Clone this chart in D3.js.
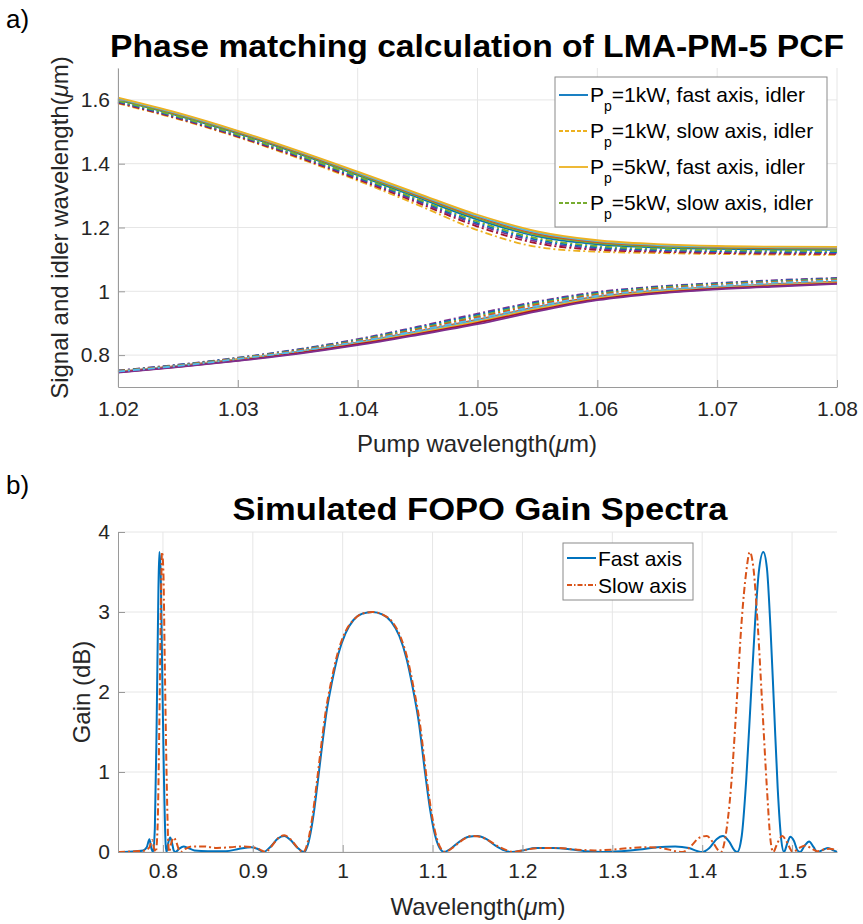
<!DOCTYPE html>
<html>
<head>
<meta charset="utf-8">
<script src="https://cdn.jsdelivr.net/npm/d3@7"></script>
<style>
body { margin: 0; background: #fff; }
svg { font-family: "Liberation Sans", Arial, sans-serif; }
.grid line { stroke: #e6e6e6; stroke-width: 1; }
.axis path, .axis line { stroke: #9a9a9a; }
.axis text { fill: #262626; font-size: 21px; }
</style>
</head>
<body>
<script>
// ---- panel a) phase matching, pump wavelength (um) ----
var pumpWl = [1.02, 1.025, 1.03, 1.035, 1.04, 1.045, 1.05, 1.055, 1.06, 1.065, 1.07, 1.075, 1.08];

var idler1kWFast = [1.600, 1.551, 1.495, 1.432, 1.364, 1.294, 1.225, 1.172, 1.147, 1.137, 1.133, 1.131, 1.130];
var idler2kWFast = [1.602, 1.553, 1.497, 1.435, 1.367, 1.298, 1.229, 1.176, 1.151, 1.140, 1.136, 1.134, 1.133];
var idler3kWFast = [1.604, 1.555, 1.499, 1.437, 1.370, 1.301, 1.233, 1.180, 1.154, 1.143, 1.138, 1.136, 1.135];
var idler4kWFast = [1.605, 1.557, 1.501, 1.439, 1.372, 1.304, 1.236, 1.184, 1.157, 1.145, 1.140, 1.138, 1.137];
var idler5kWFast = [1.607, 1.559, 1.503, 1.441, 1.375, 1.307, 1.240, 1.188, 1.160, 1.148, 1.142, 1.140, 1.139];
var idler1kWSlow = [1.589, 1.540, 1.483, 1.418, 1.347, 1.271, 1.192, 1.139, 1.124, 1.120, 1.117, 1.115, 1.114];
var idler2kWSlow = [1.591, 1.542, 1.485, 1.421, 1.351, 1.278, 1.203, 1.150, 1.130, 1.124, 1.120, 1.118, 1.117];
var idler3kWSlow = [1.593, 1.544, 1.487, 1.424, 1.354, 1.282, 1.209, 1.156, 1.134, 1.127, 1.123, 1.121, 1.120];
var idler4kWSlow = [1.595, 1.546, 1.489, 1.426, 1.357, 1.286, 1.214, 1.161, 1.138, 1.130, 1.126, 1.124, 1.123];
var idler5kWSlow = [1.597, 1.548, 1.491, 1.428, 1.360, 1.289, 1.219, 1.166, 1.142, 1.133, 1.129, 1.127, 1.126];

var signal1kWFast = [0.748, 0.766, 0.787, 0.811, 0.840, 0.874, 0.911, 0.951, 0.983, 1.002, 1.014, 1.023, 1.030];
var signal2kWFast = [0.747, 0.765, 0.786, 0.810, 0.838, 0.872, 0.908, 0.948, 0.980, 1.000, 1.012, 1.021, 1.028];
var signal3kWFast = [0.747, 0.764, 0.785, 0.808, 0.836, 0.869, 0.905, 0.945, 0.978, 0.998, 1.010, 1.019, 1.027];
var signal4kWFast = [0.746, 0.763, 0.783, 0.806, 0.834, 0.866, 0.901, 0.941, 0.975, 0.995, 1.008, 1.017, 1.025];
var signal5kWFast = [0.745, 0.762, 0.782, 0.804, 0.831, 0.863, 0.897, 0.937, 0.972, 0.993, 1.006, 1.015, 1.023];
var signal1kWSlow = [0.752, 0.770, 0.792, 0.818, 0.850, 0.889, 0.930, 0.968, 0.998, 1.015, 1.026, 1.035, 1.042];
var signal2kWSlow = [0.751, 0.769, 0.791, 0.817, 0.848, 0.886, 0.926, 0.965, 0.995, 1.013, 1.024, 1.033, 1.040];
var signal3kWSlow = [0.750, 0.768, 0.790, 0.815, 0.846, 0.883, 0.922, 0.962, 0.992, 1.011, 1.022, 1.031, 1.038];
var signal4kWSlow = [0.750, 0.767, 0.789, 0.814, 0.844, 0.880, 0.918, 0.958, 0.989, 1.008, 1.020, 1.029, 1.036];
var signal5kWSlow = [0.749, 0.766, 0.788, 0.812, 0.842, 0.877, 0.914, 0.954, 0.986, 1.005, 1.018, 1.027, 1.034];

var pumpTicks = [1.02, 1.03, 1.04, 1.05, 1.06, 1.07, 1.08];
var pumpTickLabels = ["1.02", "1.03", "1.04", "1.05", "1.06", "1.07", "1.08"];
var phaseTicks = [0.8, 1, 1.2, 1.4, 1.6];
var phaseTickLabels = ["0.8", "1", "1.2", "1.4", "1.6"];
var legendPowers = ["1kW, fast axis, idler", "1kW, slow axis, idler", "5kW, fast axis, idler", "5kW, slow axis, idler"];

// ---- panel b) gain spectra ----
var fastWl = [0.75, 0.77, 0.778, 0.782, 0.785, 0.787, 0.789, 0.791, 0.793, 0.795, 0.796, 0.7975, 0.799, 0.801, 0.803, 0.804,
  0.806, 0.808, 0.810, 0.812, 0.814, 0.818, 0.823, 0.828, 0.835, 0.85, 0.87, 0.885, 0.898, 0.905, 0.912, 0.92, 0.928, 0.935,
  0.942, 0.95, 0.957, 0.962, 0.967, 0.972, 0.977, 0.982, 0.988, 0.995, 1.003, 1.012, 1.022, 1.033, 1.044, 1.054, 1.063,
  1.071, 1.078, 1.085, 1.091, 1.097, 1.103, 1.109, 1.113, 1.12, 1.13, 1.14, 1.15, 1.16, 1.17, 1.18, 1.188, 1.2, 1.215,
  1.235, 1.255, 1.27, 1.29, 1.31, 1.33, 1.35, 1.37, 1.385, 1.395, 1.4, 1.408, 1.416, 1.423, 1.43, 1.436, 1.439, 1.444,
  1.449, 1.454, 1.459, 1.463, 1.468, 1.472, 1.476, 1.48, 1.484, 1.488, 1.491, 1.495, 1.498, 1.502, 1.506, 1.509, 1.514,
  1.519, 1.524, 1.528, 1.535, 1.54, 1.546, 1.55];
var fastGain = [0, 0.01, 0.02, 0.06, 0.16, 0.05, 0, 0.3, 1.6, 3.3, 3.75, 3.5, 2.4, 1.0, 0.1, 0,
  0.12, 0.18, 0.12, 0.02, 0, 0.04, 0.07, 0.05, 0.02, 0.01, 0.01, 0.04, 0.06, 0.04, 0, 0.07, 0.17, 0.2,
  0.15, 0.05, 0, 0.12, 0.42, 0.85, 1.32, 1.75, 2.12, 2.47, 2.73, 2.9, 2.98, 3.0, 2.97, 2.88, 2.7,
  2.42, 2.05, 1.6, 1.05, 0.55, 0.2, 0.03, 0, 0.04, 0.13, 0.19, 0.2, 0.16, 0.08, 0.02, 0, 0.02, 0.05,
  0.05, 0.03, 0.01, 0, 0.01, 0.03, 0.06, 0.07, 0.05, 0.01, 0, 0.05, 0.16, 0.2, 0.13, 0.02, 0, 0.2,
  0.9, 1.9, 2.9, 3.5, 3.75, 3.55, 2.8, 1.8, 0.8, 0.15, 0, 0.12, 0.19, 0.14, 0.02, 0, 0.08,
  0.13, 0.06, 0, 0.03, 0.05, 0.02, 0];

var slowWl = [0.75, 0.77, 0.78, 0.785, 0.788, 0.79, 0.792, 0.794, 0.796, 0.798, 0.799, 0.8005, 0.802, 0.804, 0.806, 0.807,
  0.809, 0.812, 0.815, 0.818, 0.82, 0.825, 0.832, 0.845, 0.86, 0.875, 0.89, 0.9, 0.908, 0.914, 0.92, 0.928, 0.935, 0.942,
  0.95, 0.956, 0.961, 0.966, 0.971, 0.976, 0.981, 0.987, 0.994, 1.002, 1.012, 1.022, 1.033, 1.044, 1.055, 1.064, 1.072,
  1.079, 1.086, 1.092, 1.098, 1.104, 1.11, 1.114, 1.122, 1.132, 1.143, 1.153, 1.163, 1.173, 1.183, 1.19, 1.2, 1.22, 1.24,
  1.26, 1.28, 1.3, 1.32, 1.34, 1.355, 1.37, 1.378, 1.388, 1.397, 1.405, 1.412, 1.418, 1.421, 1.426, 1.432, 1.438, 1.444,
  1.449, 1.453, 1.457, 1.462, 1.467, 1.472, 1.476, 1.479, 1.484, 1.489, 1.494, 1.499, 1.501, 1.508, 1.515, 1.522, 1.528,
  1.535, 1.542, 1.55];
var slowGain = [0, 0.01, 0.02, 0.06, 0.15, 0.05, 0, 0.3, 1.6, 3.3, 3.75, 3.5, 2.4, 1.0, 0.1, 0,
  0.1, 0.18, 0.12, 0.02, 0, 0.04, 0.07, 0.07, 0.05, 0.06, 0.07, 0.06, 0.03, 0, 0.06, 0.17, 0.21, 0.16,
  0.05, 0, 0.12, 0.42, 0.85, 1.32, 1.75, 2.12, 2.47, 2.73, 2.9, 2.98, 3.0, 2.97, 2.88, 2.7, 2.42,
  2.05, 1.6, 1.05, 0.55, 0.2, 0.03, 0, 0.05, 0.14, 0.2, 0.19, 0.14, 0.07, 0.02, 0, 0.02, 0.05, 0.05,
  0.03, 0.02, 0.03, 0.05, 0.06, 0.05, 0.01, 0, 0.08, 0.18, 0.2, 0.12, 0.02, 0, 0.2, 0.8, 1.8, 2.9,
  3.5, 3.75, 3.55, 2.8, 1.8, 0.8, 0.15, 0, 0.12, 0.2, 0.13, 0.02, 0, 0.05, 0.08, 0.04, 0.01,
  0.03, 0.04, 0.02];

var gainXTicks = [0.8, 0.9, 1, 1.1, 1.2, 1.3, 1.4, 1.5];
var gainXTickLabels = ["0.8", "0.9", "1", "1.1", "1.2", "1.3", "1.4", "1.5"];
var gainYTicks = [0, 1, 2, 3, 4];
var gainLegend = ["Fast axis", "Slow axis"];

// matlab default colour order
var mBlue = "#0072BD", mOrange = "#D95319", mYellow = "#EDB120", mPurple = "#7E2F8E",
    mGreen = "#77AC30", mCyan = "#4DBEEE", mRed = "#A2142F";
var dashDot = "7,3,2,3";

var width = 863, height = 924;
var svg = d3.select("body").append("svg")
    .attr("width", width)
    .attr("height", height);

var left = 118, right = 837;

// ===== panel a =====
var topA = 68, bottomA = 387;
var xA = d3.scaleLinear().domain([1.02, 1.08]).range([left, right]);
var yA = d3.scaleLinear().domain([0.7, 1.7]).range([bottomA, topA]);

svg.append("g").attr("class", "grid")
    .selectAll("line").data(pumpTicks).enter().append("line")
    .attr("x1", d => xA(d)).attr("x2", d => xA(d))
    .attr("y1", topA).attr("y2", bottomA);
svg.append("g").attr("class", "grid")
    .selectAll("line").data(phaseTicks).enter().append("line")
    .attr("x1", left).attr("x2", right)
    .attr("y1", d => yA(d)).attr("y2", d => yA(d));

// plot order as matlab drew it: fast idler, fast signal, slow idler, slow signal per power
var phaseSeries = [
  { v: idler1kWFast, c: mBlue, dash: false }, { v: signal1kWFast, c: mOrange, dash: false },
  { v: idler1kWSlow, c: mYellow, dash: true }, { v: signal1kWSlow, c: mPurple, dash: true },
  { v: idler2kWFast, c: mGreen, dash: false }, { v: signal2kWFast, c: mCyan, dash: false },
  { v: idler2kWSlow, c: mRed, dash: true }, { v: signal2kWSlow, c: mBlue, dash: true },
  { v: idler3kWFast, c: mOrange, dash: false }, { v: signal3kWFast, c: mYellow, dash: false },
  { v: idler3kWSlow, c: mPurple, dash: true }, { v: signal3kWSlow, c: mGreen, dash: true },
  { v: idler4kWFast, c: mCyan, dash: false }, { v: signal4kWFast, c: mRed, dash: false },
  { v: idler4kWSlow, c: mBlue, dash: true }, { v: signal4kWSlow, c: mOrange, dash: true },
  { v: idler5kWFast, c: mYellow, dash: false }, { v: signal5kWFast, c: mPurple, dash: false },
  { v: idler5kWSlow, c: mGreen, dash: true }, { v: signal5kWSlow, c: mCyan, dash: true }
];

var lineA = d3.line()
    .x((d, i) => xA(pumpWl[i]))
    .y(d => yA(d))
    .curve(d3.curveMonotoneX);

svg.append("g").selectAll("path").data(phaseSeries).enter().append("path")
    .attr("d", d => lineA(d.v))
    .attr("fill", "none")
    .attr("stroke", d => d.c)
    .attr("stroke-width", 1.8)
    .attr("stroke-dasharray", d => d.dash ? dashDot : null);

svg.append("g").attr("class", "axis")
    .attr("transform", "translate(0," + bottomA + ")")
    .call(d3.axisBottom(xA).tickValues(pumpTicks)
        .tickFormat((d, i) => pumpTickLabels[i])
        .tickSizeInner(-7).tickSizeOuter(0).tickPadding(14));
svg.append("g").attr("class", "axis")
    .attr("transform", "translate(" + left + ",0)")
    .call(d3.axisLeft(yA).tickValues(phaseTicks)
        .tickFormat((d, i) => phaseTickLabels[i])
        .tickSizeInner(-7).tickSizeOuter(0).tickPadding(8));

svg.append("text").attr("x", 6).attr("y", 28)
    .attr("font-size", 26).text("a)");

svg.append("text").attr("x", 477).attr("y", 57)
    .attr("text-anchor", "middle").attr("font-size", 32).attr("font-weight", "bold")
    .attr("textLength", 734).attr("lengthAdjust", "spacingAndGlyphs")
    .text("Phase matching calculation of LMA-PM-5 PCF");

var xLabA = svg.append("text").attr("x", 477).attr("y", 452)
    .attr("text-anchor", "middle").attr("font-size", 24).attr("fill", "#262626");
xLabA.append("tspan").text("Pump wavelength(");
xLabA.append("tspan").attr("font-style", "italic").text("\u03bc");
xLabA.append("tspan").text("m)");

var yLabA = svg.append("text")
    .attr("transform", "translate(68," + (topA + bottomA) / 2 + ") rotate(-90)")
    .attr("text-anchor", "middle").attr("font-size", 24).attr("fill", "#262626");
yLabA.append("tspan").text("Signal and idler wavelength(");
yLabA.append("tspan").attr("font-style", "italic").text("\u03bc");
yLabA.append("tspan").text("m)");

// legend a
var legA = svg.append("g");
legA.append("rect").attr("x", 555).attr("y", 77).attr("width", 272).attr("height", 150)
    .attr("fill", "#fff").attr("stroke", "#8a8a8a").attr("stroke-width", 1);
var legAStyle = [{ c: mBlue, dash: false }, { c: mYellow, dash: true }, { c: mYellow, dash: false }, { c: mGreen, dash: true }];
legendPowers.forEach(function (lab, i) {
  var y = 102 + i * 36;
  legA.append("line").attr("x1", 559).attr("x2", 588).attr("y1", y - 7).attr("y2", y - 7)
      .attr("stroke", legAStyle[i].c).attr("stroke-width", 1.8)
      .attr("stroke-dasharray", legAStyle[i].dash ? "4,2" : null);
  var t = legA.append("text").attr("x", 590).attr("y", y).attr("font-size", 21).attr("fill", "#000");
  t.append("tspan").text("P");
  t.append("tspan").attr("dy", 9).attr("font-size", 14).text("p");
  t.append("tspan").attr("dy", -9).text("=" + lab);
});

// ===== panel b =====
var topB = 532, bottomB = 852;
var xB = d3.scaleLinear().domain([0.75, 1.55]).range([left, right]);
var yB = d3.scaleLinear().domain([0, 4]).range([bottomB, topB]);

svg.append("g").attr("class", "grid")
    .selectAll("line").data(gainXTicks).enter().append("line")
    .attr("x1", d => xB(d)).attr("x2", d => xB(d))
    .attr("y1", topB).attr("y2", bottomB);
svg.append("g").attr("class", "grid")
    .selectAll("line").data(gainYTicks).enter().append("line")
    .attr("x1", left).attr("x2", right)
    .attr("y1", d => yB(d)).attr("y2", d => yB(d));

var lineB = d3.line()
    .x(d => xB(d[0]))
    .y(d => yB(d[1]))
    .curve(d3.curveMonotoneX);

svg.append("path")
    .attr("d", lineB(d3.zip(fastWl, fastGain)))
    .attr("fill", "none").attr("stroke", mBlue).attr("stroke-width", 2);
svg.append("path")
    .attr("d", lineB(d3.zip(slowWl, slowGain)))
    .attr("fill", "none").attr("stroke", mOrange).attr("stroke-width", 2)
    .attr("stroke-dasharray", dashDot);

svg.append("g").attr("class", "axis")
    .attr("transform", "translate(0," + bottomB + ")")
    .call(d3.axisBottom(xB).tickValues(gainXTicks)
        .tickFormat((d, i) => gainXTickLabels[i])
        .tickSizeInner(-7).tickSizeOuter(0).tickPadding(11));
svg.append("g").attr("class", "axis")
    .attr("transform", "translate(" + left + ",0)")
    .call(d3.axisLeft(yB).tickValues(gainYTicks)
        .tickFormat(d3.format("d"))
        .tickSizeInner(-7).tickSizeOuter(0).tickPadding(8));

svg.append("text").attr("x", 6).attr("y", 494)
    .attr("font-size", 26).text("b)");

svg.append("text").attr("x", 480).attr("y", 520)
    .attr("text-anchor", "middle").attr("font-size", 32).attr("font-weight", "bold")
    .attr("textLength", 495).attr("lengthAdjust", "spacingAndGlyphs")
    .text("Simulated FOPO Gain Spectra");

var xLabB = svg.append("text").attr("x", 478).attr("y", 915)
    .attr("text-anchor", "middle").attr("font-size", 24).attr("fill", "#262626");
xLabB.append("tspan").text("Wavelength(");
xLabB.append("tspan").attr("font-style", "italic").text("\u03bc");
xLabB.append("tspan").text("m)");

svg.append("text")
    .attr("transform", "translate(90," + (topB + bottomB) / 2 + ") rotate(-90)")
    .attr("text-anchor", "middle").attr("font-size", 24).attr("fill", "#262626")
    .text("Gain (dB)");

// legend b
var legB = svg.append("g");
legB.append("rect").attr("x", 563).attr("y", 543).attr("width", 130).attr("height", 57)
    .attr("fill", "#fff").attr("stroke", "#8a8a8a").attr("stroke-width", 1);
var legBStyle = [{ c: mBlue, dash: false }, { c: mOrange, dash: true }];
gainLegend.forEach(function (lab, i) {
  var y = 566 + i * 27;
  legB.append("line").attr("x1", 567).attr("x2", 596).attr("y1", y - 8).attr("y2", y - 8)
      .attr("stroke", legBStyle[i].c).attr("stroke-width", 2)
      .attr("stroke-dasharray", legBStyle[i].dash ? "5,2,1.5,2" : null);
  legB.append("text").attr("x", 598).attr("y", y).attr("font-size", 21).attr("fill", "#000").text(lab);
});
</script>
</body>
</html>
